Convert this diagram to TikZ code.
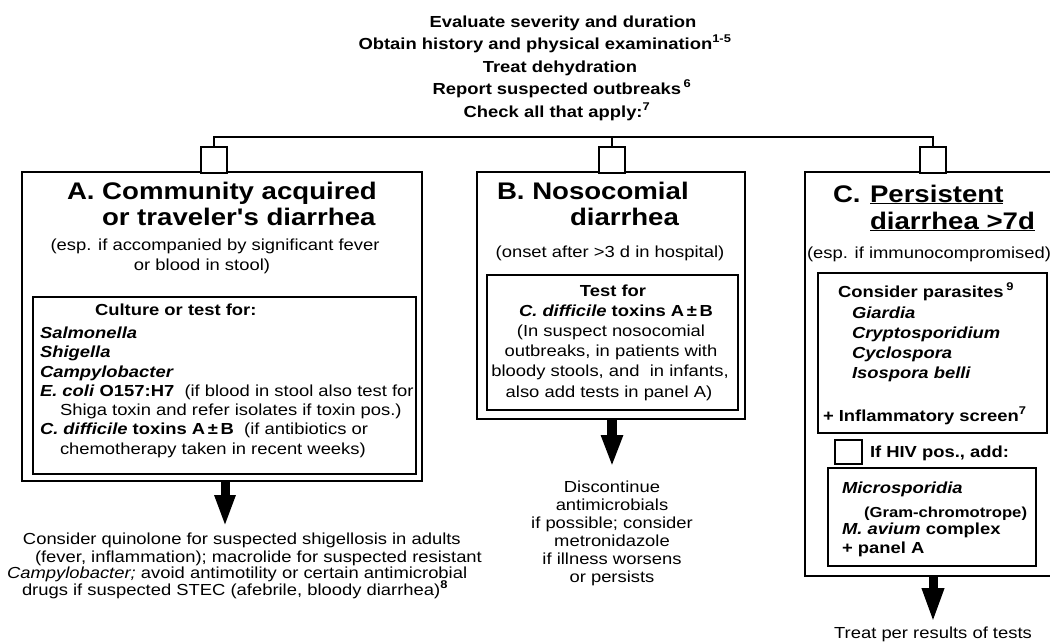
\documentclass[tikz,border=0pt]{standalone}
\usepackage{fontspec}
\setmainfont{Liberation Sans}[FakeStretch=1.15]
\usetikzlibrary{arrows.meta}
\newcommand{\fbody}{\fontsize{16}{18}\selectfont}
\newcommand{\ftitle}{\fontsize{24}{26}\selectfont\bfseries}
\newcommand{\fsmall}{\fontsize{14.5}{16}\selectfont}
\newcommand{\bi}[1]{\textbf{\textit{#1}}}
\newcommand{\sapos}{{\addfontfeature{Ligatures=TeXOff}'}}
\begin{document}
\begin{tikzpicture}[x=1pt,y=-1pt,
  every node/.style={font=\fbody, inner sep=0pt, outer sep=0pt},
  txt/.style={anchor=base west},
  ctxt/.style={anchor=base},
  ttl/.style={anchor=base west, font=\ftitle},
  panel/.style={draw, line width=1.3pt, minimum width=#1},
  inner/.style={draw, line width=2.6pt, minimum width=#1},
  chk/.style={draw, line width=2pt, fill=white, minimum width=26pt, minimum height=26pt},
  busline/.style={line width=2pt},
  bigarrow/.style={line width=9pt, -{Triangle[width=19pt,length=32pt]}}]
\useasboundingbox (0,0) rectangle (1050,643);
\fill[white] (0,0) rectangle (1050,643);

% ---------- header ----------
\node[ctxt] (t1) at (563,27) {\bfseries Evaluate severity and duration};
\node[ctxt] (t2) at (545,49) {\bfseries Obtain history and physical examination\textsuperscript{1-5}};
\node[ctxt] (t3) at (560,72) {\bfseries Treat dehydration};
\node[ctxt] (t4) at (562,94) {\bfseries Report suspected outbreaks\,\textsuperscript{6}};
\node[ctxt] (t5) at (557,117) {\bfseries Check all that apply:\textsuperscript{7}};

% ---------- boxes ----------
\node[panel=400pt, minimum height=309pt] (boxA) at (222,326.5) {};
\node[inner=383pt, minimum height=177pt] (inA) at (224.5,385.5) {};
\node[panel=268pt, minimum height=247pt] (boxB) at (611,295.5) {};
\node[inner=251pt, minimum height=135pt] (inB) at (612.5,342.5) {};
\node[panel=248pt, minimum height=404pt] (boxC) at (929,374) {};
\node[inner=229pt, minimum height=160pt] (inC1) at (932.5,353) {};
\node[inner=208pt, minimum height=98pt] (inC2) at (932,517) {};

% ---------- check boxes and bus ----------
\coordinate (bus) at (0,137);
\node[chk] (chkA) at (214,160) {};
\node[chk] (chkB) at (612,160) {};
\node[chk] (chkC) at (933,160) {};
\node[chk, minimum width=27pt, minimum height=24pt] (chkH) at (848,452) {};
\draw[busline] (chkA.north) -- (chkA.north |- bus) -- (chkC.north |- bus) -- (chkC.north);
\draw[busline] (chkB.north) -- (chkB.north |- bus);

% ---------- panel A ----------
\node[ttl] (aT1) at (67,199) {A. Community acquired};
\node[ttl] (aT2) at (102,225) {or traveler\sapos s diarrhea};
\node[ctxt] (aS1) at (215,250) {(esp. if accompanied by significant fever};
\node[ctxt] (aS2) at (202,270) {or blood in stool)};
\node[txt] (aC0) at (95,315) {\bfseries Culture or test for:};
\node[txt] (aC1) at (40,338) {\bi{Salmonella}};
\node[txt] (aC2) at (40,357) {\bi{Shigella}};
\node[txt] (aC3) at (40,377) {\bi{Campylobacter}};
\node[txt] (aC4) at (40,396) {\bi{E. coli} \textbf{O157:H7}\ \ (if blood in stool also test for};
\node[txt] (aC5) at (60,415) {Shiga toxin and refer isolates if toxin pos.)};
\node[txt] (aC6) at (40,434) {\bi{C. difficile} \textbf{toxins A\,±\,B}\ \ (if antibiotics or};
\node[txt] (aC7) at (60,454) {chemotherapy taken in recent weeks)};

\node[txt] (aR1) at (23,544) {Consider quinolone for suspected shigellosis in adults};
\node[txt] (aR2) at (35,562) {(fever, inflammation); macrolide for suspected resistant};
\node[txt] (aR3) at (7,578) {\textit{Campylobacter;} avoid antimotility or certain antimicrobial};
\node[txt] (aR4) at (22,595) {drugs if suspected STEC (afebrile, bloody diarrhea)\textsuperscript{\bfseries 8}};

\coordinate (aTip) at (225,527);
\draw[bigarrow] (boxA.south -| aTip) -- (aTip);

% ---------- panel B ----------
\node[ttl] (bT1) at (497,199) {B. Nosocomial};
\node[ttl] (bT2) at (570,225) {diarrhea};
\node[ctxt] (bS) at (610,257) {(onset after >3 d in hospital)};
\node[ctxt] (bC0) at (613,296) {\bfseries Test for};
\node[txt] (bC1) at (519,316) {\bi{C. difficile} \textbf{toxins A\,±\,B}};
\node[ctxt] (bC2) at (611,336) {(In suspect nosocomial};
\node[ctxt] (bC3) at (611,356) {outbreaks, in patients with};
\node[ctxt] (bC4) at (610,376) {bloody stools, and\ \ in infants,};
\node[ctxt] (bC5) at (609,397) {also add tests in panel A)};

\coordinate (bTip) at (612,467);
\draw[bigarrow, line width=10pt, -{Triangle[width=20pt,length=32pt]}] (boxB.south -| bTip) -- (bTip);
\node[ctxt] (bR1) at (612,492) {Discontinue};
\node[ctxt] (bR2) at (612,510) {antimicrobials};
\node[ctxt] (bR3) at (612,528) {if possible;\ consider};
\node[ctxt] (bR4) at (612,546) {metronidazole};
\node[ctxt] (bR5) at (612,564) {if illness worsens};
\node[ctxt] (bR6) at (612,582) {or persists};

% ---------- panel C ----------
\node[ttl] (cT0) at (833,202) {C.};
\node[ttl] (cT1) at (870,202) {\underline{Persistent}};
\node[ttl] (cT2) at (870,229) {\underline{diarrhea >7d}};
\node[txt] (cS) at (807,258) {(esp. if\ immunocompromised)};
\node[txt] (cC0) at (838,297) {\bfseries Consider parasites\,\textsuperscript{9}};
\node[txt] (cC1) at (852,318) {\bi{Giardia}};
\node[txt] (cC2) at (852,338) {\bi{Cryptosporidium}};
\node[txt] (cC3) at (852,358) {\bi{Cyclospora}};
\node[txt] (cC4) at (852,378) {\bi{Isospora belli}};
\node[txt] (cC5) at (823,421) {\bfseries + Inflammatory screen\textsuperscript{7}};
\node[txt] (cH) at (870,457) {\bfseries If HIV pos., add:};
\node[txt] (cD1) at (842,493) {\bi{Microsporidia}};
\node[txt, font=\fsmall\bfseries] (cD2) at (864,517) {(Gram-chromotrope)};
\node[txt] (cD3) at (842,534) {\bi{M. avium} \textbf{complex}};
\node[txt] (cD4) at (842,553) {\bfseries + panel A};

\coordinate (cTip) at (933,623);
\draw[bigarrow, -{Triangle[width=20pt,length=35pt]}] (boxC.south -| cTip) -- (cTip);
\node[ctxt] (cR) at (933,638) {Treat per results of tests};
\end{tikzpicture}
\end{document}
